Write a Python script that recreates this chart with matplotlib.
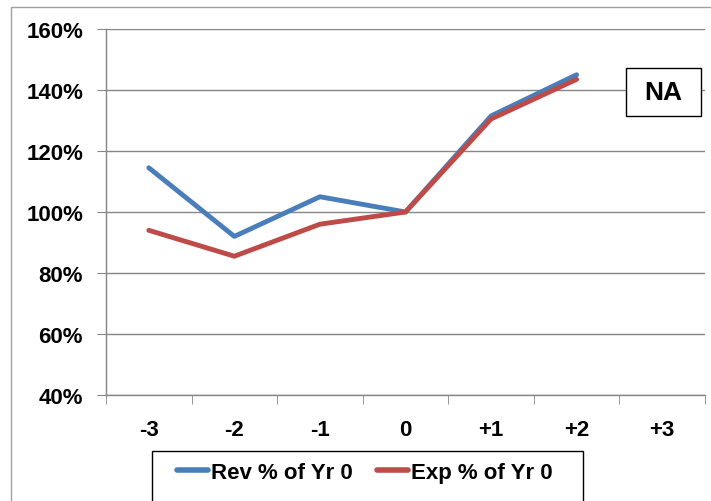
import matplotlib
matplotlib.use("Agg")
import matplotlib.pyplot as plt
from matplotlib.patches import Rectangle
from matplotlib.ticker import FixedLocator, NullFormatter

plt.rcParams["font.family"] = ["Liberation Sans", "DejaVu Sans"]

years = ["-3", "-2", "-1", "0", "+1", "+2", "+3"]
rev_pct = [114.5, 92, 105, 100, 131.5, 145]
exp_pct = [94, 85.5, 96, 100, 130.5, 143.5]

W, H = 711, 502
fig = plt.figure(figsize=(W / 100, H / 100), dpi=100)
# outer chart frame (Excel chart area), right/bottom run off the image
fig.patches.append(Rectangle((11 / W, -0.1), 1.2, 1 - 8 / H + 0.1, transform=fig.transFigure,
                             fill=False, edgecolor="#a0a0a0", linewidth=1))

ax = fig.add_axes([106 / W, 1 - 396 / H, 599 / W, 366 / H])

x = list(range(len(years)))
ax.plot(x[:len(rev_pct)], rev_pct, color="#4a7ebb", linewidth=3.5, label="Rev % of Yr 0",
        solid_capstyle="round", zorder=3)
ax.plot(x[:len(exp_pct)], exp_pct, color="#be4b48", linewidth=3.5, label="Exp % of Yr 0",
        solid_capstyle="round", zorder=3)

ax.set_xlim(-0.5, len(years) - 0.5)
ax.set_ylim(40, 160)
ax.set_yticks(range(40, 161, 20))
ax.set_yticklabels([f"{v}%" for v in range(40, 161, 20)], fontsize=16, fontweight="bold")
ax.set_xticks(x)
ax.set_xticklabels(years, fontsize=16, fontweight="bold")
ax.tick_params(axis="x", length=0, pad=17)
ax.xaxis.set_minor_locator(FixedLocator([i + 0.5 for i in range(-1, len(years))]))
ax.xaxis.set_minor_formatter(NullFormatter())
ax.tick_params(axis="x", which="minor", length=6.5, color="#868686", direction="out")
ax.tick_params(axis="y", length=6.5, color="#868686", pad=10)

ax.grid(axis="y", color="#868686", linewidth=1)
ax.set_axisbelow(True)
for side in ["top", "right"]:
    ax.spines[side].set_visible(False)
for side in ["left", "bottom"]:
    ax.spines[side].set_color("#868686")
    ax.spines[side].set_linewidth(1)

# "NA" label box
ax.add_patch(Rectangle((0.868, 0.762), 0.125, 0.131, transform=ax.transAxes,
                       facecolor="white", edgecolor="black", linewidth=1, zorder=4, clip_on=False))
ax.text(0.9305, 0.828, "NA", transform=ax.transAxes, fontsize=19, fontweight="bold",
        ha="center", va="center", zorder=5)

# legend, frame drawn by hand so it runs off the bottom like the original
fig.patches.append(Rectangle((152 / W, -0.1), (583 - 152) / W, 1 - 452 / H + 0.1,
                             transform=fig.transFigure, fill=False, edgecolor="black", linewidth=1))
leg = fig.legend(loc="upper left", bbox_to_anchor=(177 / W, 1 - 463 / H), ncol=2,
                 frameon=False, handlelength=1.4, handletextpad=0.12, columnspacing=1.1,
                 borderpad=0, borderaxespad=0, prop={"weight": "bold", "size": 16})
for line in leg.get_lines():
    line.set_linewidth(4)
    line.set_solid_capstyle("round")

fig.savefig("out.png", dpi=100)
